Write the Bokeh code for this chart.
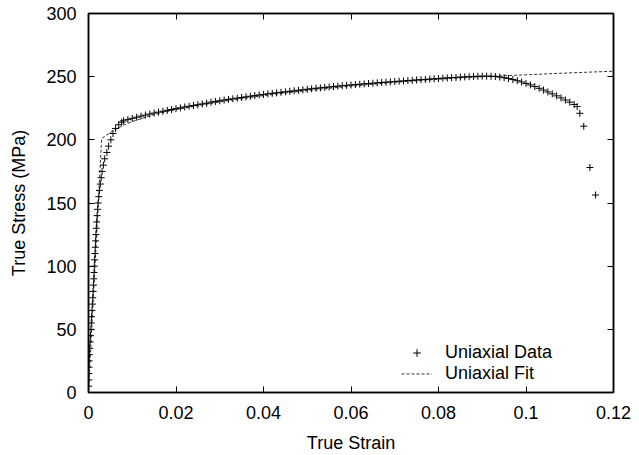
from bokeh.plotting import figure
from bokeh.models import LinearAxis, Legend, LegendItem, FixedTicker, Range1d, CustomLabelingPolicy
from bokeh.embed import file_html
from bokeh.resources import INLINE

# Uniaxial tension test data (true strain, true stress in MPa)
data_strain = [
    0.0, 0.00002, 0.00004, 0.00007, 0.0001, 0.00015, 0.0002, 0.00028, 0.00036, 0.00045,
    0.00055, 0.00063, 0.0007, 0.0008, 0.00088, 0.00097, 0.00105, 0.00112, 0.0012, 0.00127,
    0.00134, 0.0014, 0.00148, 0.00155, 0.00163, 0.0017, 0.00178, 0.00187, 0.00197, 0.00208,
    0.0022, 0.00235, 0.0025, 0.0027, 0.0029, 0.0031, 0.0034, 0.0037, 0.0042, 0.0046,
    0.0051, 0.0056, 0.0062, 0.0069, 0.0076,
    0.008, 0.009, 0.010, 0.011, 0.012, 0.013, 0.014, 0.015, 0.016, 0.017,
    0.018, 0.019, 0.020, 0.021, 0.022, 0.023, 0.024, 0.025, 0.026, 0.027,
    0.028, 0.029, 0.030, 0.031, 0.032, 0.033, 0.034, 0.035, 0.036, 0.037,
    0.038, 0.039, 0.040, 0.041, 0.042, 0.043, 0.044, 0.045, 0.046, 0.047,
    0.048, 0.049, 0.050, 0.051, 0.052, 0.053, 0.054, 0.055, 0.056, 0.057,
    0.058, 0.059, 0.060, 0.061, 0.062, 0.063, 0.064, 0.065, 0.066, 0.067,
    0.068, 0.069, 0.070, 0.071, 0.072, 0.073, 0.074, 0.075, 0.076, 0.077,
    0.078, 0.079, 0.080, 0.081, 0.082, 0.083, 0.084, 0.085, 0.086, 0.087,
    0.088, 0.089, 0.090, 0.091, 0.092, 0.093, 0.094, 0.095, 0.096, 0.097,
    0.098, 0.099, 0.100, 0.101, 0.102, 0.103, 0.104, 0.105, 0.106, 0.107,
    0.108, 0.109, 0.110, 0.111,
    0.1117, 0.1123, 0.1132, 0.1146, 0.1159,
]
data_stress = [
    0, 5, 10, 15, 20, 25, 30, 35, 40, 45,
    50, 55, 60, 65, 70, 75, 80, 85, 90, 95,
    100, 105, 110, 115, 120, 125, 130, 135, 140, 145,
    150, 155, 160, 165, 170, 175, 180, 185, 190, 195,
    200, 205, 209, 212, 214,
    215.0, 216.0, 217.0, 217.9, 218.8, 219.6, 220.4, 221.2, 221.9, 222.6,
    223.3, 224.0, 224.7, 225.3, 226.0, 226.6, 227.2, 227.8, 228.4, 229.0,
    229.8, 230.4, 230.9, 231.5, 232.0, 232.5, 233.0, 233.5, 234.0, 234.5,
    235.0, 235.5, 235.9, 236.4, 236.8, 237.2, 237.6, 238.0, 238.4, 238.8,
    239.2, 239.6, 240.0, 240.4, 240.8, 241.1, 241.5, 241.8, 242.2, 242.5,
    242.8, 243.1, 243.4, 243.7, 244.0, 244.3, 244.6, 244.8, 245.1, 245.4,
    245.6, 245.9, 246.1, 246.4, 246.6, 246.9, 247.1, 247.4, 247.6, 247.8,
    248.1, 248.3, 248.5, 248.8, 249.0, 249.2, 249.4, 249.6, 249.8, 250.0,
    250.2, 250.3, 250.4, 250.4, 250.3, 250.1, 249.7, 249.2, 248.5, 247.7,
    246.8, 245.8, 244.7, 243.5, 242.2, 240.8, 239.4, 237.9, 236.4, 234.8,
    233.2, 231.5, 229.8, 228.0,
    226.3, 221.0, 210.8, 178.1, 156.3,
]

# Fitted model curve
fit_strain = [0.0, 0.003, 0.004, 0.005, 0.006, 0.008, 0.010, 0.015, 0.020, 0.030,
              0.040, 0.050, 0.060, 0.070, 0.080, 0.090, 0.100, 0.110, 0.120]
fit_stress = [0.0, 201.0, 203.5, 205.8, 208.0, 211.5, 214.5, 220.0, 224.0, 230.0,
              235.0, 239.0, 242.5, 245.5, 248.0, 250.0, 251.5, 253.0, 254.3]

x_ticks = [0.0, 0.02, 0.04, 0.06, 0.08, 0.10, 0.12]
x_tick_labels = ["0", "0.02", "0.04", "0.06", "0.08", "0.1", "0.12"]
y_ticks = [0, 50, 100, 150, 200, 250, 300]
y_tick_labels = ["0", "50", "100", "150", "200", "250", "300"]

FONT = "Liberation Sans"
FS = "18px"

p = figure(width=639, height=455, output_backend="svg", toolbar_location=None,
           x_range=Range1d(0, 0.12), y_range=Range1d(0, 300),
           min_border_left=88, min_border_right=26, min_border_top=13, min_border_bottom=63)
p.xgrid.visible = False
p.ygrid.visible = False
p.outline_line_color = "black"
p.outline_line_width = 1.5
p.background_fill_color = "white"
p.border_fill_color = "white"

fit_r = p.line(fit_strain, fit_stress, line_color="#333333", line_width=1, line_dash="3 2")
data_r = p.scatter(data_strain, data_stress, marker="cross", size=7, line_color="black",
                   line_width=1)

no_labels = CustomLabelingPolicy(code="""
const all = [...indices];
for (const i of all) indices.unset(i);
return indices;
""")

def style_axis(ax, ticks, labels, show_labels):
    ax.ticker = FixedTicker(ticks=ticks)
    ax.major_tick_in = 6
    ax.major_tick_out = 0
    ax.minor_tick_in = 0
    ax.minor_tick_out = 0
    ax.axis_line_color = "black"
    ax.axis_line_width = 1.5
    ax.major_tick_line_color = "black"
    ax.major_tick_line_width = 1
    ax.major_label_text_font = FONT
    ax.major_label_text_color = "black"
    ax.axis_label_text_font = FONT
    ax.axis_label_text_font_size = FS
    ax.axis_label_text_font_style = "normal"
    ax.axis_label_text_color = "black"
    if show_labels:
        ax.major_label_text_font_size = FS
        ax.major_label_overrides = {t: l for t, l in zip(ticks, labels)}
    else:
        ax.major_label_text_font_size = "0px"
        ax.major_label_policy = no_labels
        ax.major_label_standoff = 0

xa = p.xaxis[0]
style_axis(xa, x_ticks, x_tick_labels, True)
xa.axis_label = "True Strain"
xa.major_label_standoff = 13
xa.axis_label_standoff = 11

ya = p.yaxis[0]
style_axis(ya, y_ticks, y_tick_labels, True)
ya.axis_label = "True Stress (MPa)"
ya.major_label_standoff = 12
ya.axis_label_standoff = 14

top = LinearAxis()
style_axis(top, x_ticks, x_tick_labels, False)
p.add_layout(top, "above")
right = LinearAxis()
style_axis(right, y_ticks, y_tick_labels, False)
p.add_layout(right, "right")

legend = Legend(items=[LegendItem(label="Uniaxial Data", renderers=[data_r]),
                       LegendItem(label="Uniaxial Fit", renderers=[fit_r])],
                location=(313, 8))
legend.label_text_font = FONT
legend.label_text_font_size = FS
legend.label_text_color = "black"
legend.glyph_width = 31
legend.glyph_height = 19
legend.label_height = 19
legend.label_standoff = 13
legend.spacing = 0
legend.padding = 0
legend.margin = 0
legend.border_line_color = None
legend.background_fill_alpha = 0
p.add_layout(legend, "center")

open("out.html", "w").write(file_html(p, INLINE))
